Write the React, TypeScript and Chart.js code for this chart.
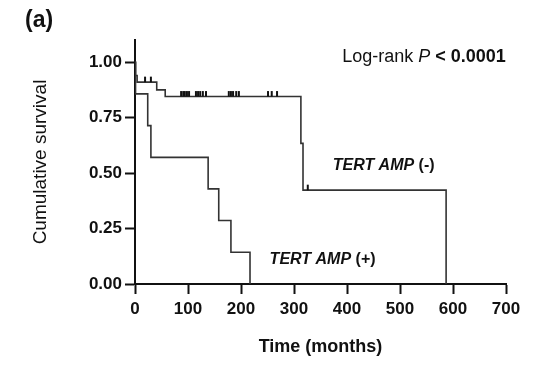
import React, { useEffect, useRef } from "react";
import { Chart, registerables } from "chart.js";

Chart.register(...registerables);

// Kaplan-Meier curves (event time in months, survival after event)
const negTimes = [0, 1, 4, 41, 57, 313, 317, 587];
const negSurv = [1, 0.94, 0.91, 0.875, 0.845, 0.634, 0.423, 0];
const posTimes = [0, 1, 24, 30, 138, 158, 181, 217];
const posSurv = [1, 0.857, 0.714, 0.571, 0.429, 0.286, 0.143, 0];

// censored observations (TERT AMP (-))
const negCensored = [19, 30, 87, 91, 94, 98, 102, 115, 119, 123, 128, 134, 177, 181, 185, 191, 196, 251, 258, 268, 326];

const xTicks = [0, 100, 200, 300, 400, 500, 600, 700];
const yTicks = [0, 0.25, 0.5, 0.75, 1.0];

const FONT = '"Liberation Sans", Arial, Helvetica, sans-serif';
const LINE = "#333333";
const AXIS = "#111111";

function survAt(times: number[], surv: number[], t: number) {
  let s = surv[0];
  for (let i = 0; i < times.length; i++) if (times[i] <= t) s = surv[i];
  return s;
}

function drawRuns(ctx: CanvasRenderingContext2D, x: number, y: number, runs: { text: string; font: string }[]) {
  let cx = x;
  ctx.textAlign = "left";
  ctx.textBaseline = "middle";
  for (const r of runs) {
    ctx.font = r.font;
    ctx.fillText(r.text, cx, y);
    cx += ctx.measureText(r.text).width;
  }
}

const overlay = {
  id: "kmOverlay",
  afterDatasetsDraw(chart: any) {
    const { ctx, scales } = chart;
    const xs = scales.x;
    const ys = scales.y;
    ctx.save();
    // censor ticks
    ctx.strokeStyle = "#111";
    ctx.lineWidth = 2;
    for (const t of negCensored) {
      const px = xs.getPixelForValue(t);
      const py = ys.getPixelForValue(survAt(negTimes, negSurv, t));
      ctx.beginPath();
      ctx.moveTo(px, py);
      ctx.lineTo(px, py - 5.5);
      ctx.stroke();
    }
    ctx.fillStyle = "#111";
    // log-rank
    drawRuns(ctx, xs.getPixelForValue(391), ys.getPixelForValue(1.022), [
      { text: "Log-rank ", font: `18px ${FONT}` },
      { text: "P", font: `italic 18px ${FONT}` },
      { text: " < 0.0001", font: `bold 18px ${FONT}` },
    ]);
    drawRuns(ctx, xs.getPixelForValue(373), ys.getPixelForValue(0.535), [
      { text: "TERT AMP", font: `italic bold 16px ${FONT}` },
      { text: " (-)", font: `bold 16px ${FONT}` },
    ]);
    drawRuns(ctx, xs.getPixelForValue(254), ys.getPixelForValue(0.108), [
      { text: "TERT AMP", font: `italic bold 16px ${FONT}` },
      { text: " (+)", font: `bold 16px ${FONT}` },
    ]);
    // panel label
    drawRuns(ctx, 25, 21, [{ text: "(a)", font: `bold 23px ${FONT}` }]);
    ctx.restore();
  },
};

export default function App() {
  const ref = useRef<HTMLCanvasElement>(null);
  useEffect(() => {
    if (!ref.current) return;
    const chart = new Chart(ref.current, {
      type: "line",
      data: {
        datasets: [
          {
            label: "TERT AMP (-)",
            data: negTimes.map((t, i) => ({ x: t, y: negSurv[i] })),
            stepped: "before",
            borderColor: LINE,
            borderWidth: 1.6,
            pointRadius: 0,
            fill: false,
          },
          {
            label: "TERT AMP (+)",
            data: posTimes.map((t, i) => ({ x: t, y: posSurv[i] })),
            stepped: "before",
            borderColor: LINE,
            borderWidth: 1.6,
            pointRadius: 0,
            fill: false,
          },
        ],
      },
      options: {
        animation: false,
        responsive: false,
        events: [],
        layout: { padding: { left: 0, right: 31, top: 40, bottom: 0 } },
        plugins: { legend: { display: false }, tooltip: { enabled: false } },
        scales: {
          x: {
            type: "linear",
            min: 0,
            max: 700,
            afterBuildTicks: (s: any) => {
              s.ticks = xTicks.map((v) => ({ value: v }));
            },
            afterFit: (s: any) => {
              s.height = 89;
            },
            grid: { drawOnChartArea: false, drawTicks: true, tickLength: 10, tickWidth: 2, tickColor: AXIS },
            border: { display: true, color: AXIS, width: 2 },
            ticks: {
              color: "#111",
              padding: 5,
              maxRotation: 0,
              font: { family: FONT, size: 17, weight: "bold" },
            },
            title: {
              display: true,
              text: "Time (months)",
              color: "#111",
              font: { family: FONT, size: 18, weight: "bold" },
              padding: { top: 0, bottom: 15 },
            },
          },
          y: {
            type: "linear",
            min: 0,
            max: 1.1,
            afterBuildTicks: (s: any) => {
              s.ticks = yTicks.map((v) => ({ value: v }));
            },
            afterFit: (s: any) => {
              s.width = 135;
            },
            grid: { drawOnChartArea: false, drawTicks: true, tickLength: 10, tickWidth: 2, tickColor: AXIS },
            border: { display: true, color: AXIS, width: 2 },
            ticks: {
              color: "#111",
              padding: 3,
              font: { family: FONT, size: 17, weight: "bold" },
              callback: (v: any) => Number(v).toFixed(2),
            },
            title: {
              display: true,
              text: "Cumulative survival",
              color: "#111",
              font: { family: FONT, size: 19, weight: "normal" },
              padding: { top: 29, bottom: 0 },
            },
          },
        },
      },
      plugins: [overlay],
    });
    return () => chart.destroy();
  }, []);
  return (
    <div style={{ position: "fixed", left: 0, top: 0, width: 537, height: 373, background: "#fff" }}>
      <canvas ref={ref} width={537} height={373} style={{ display: "block" }} />
    </div>
  );
}
